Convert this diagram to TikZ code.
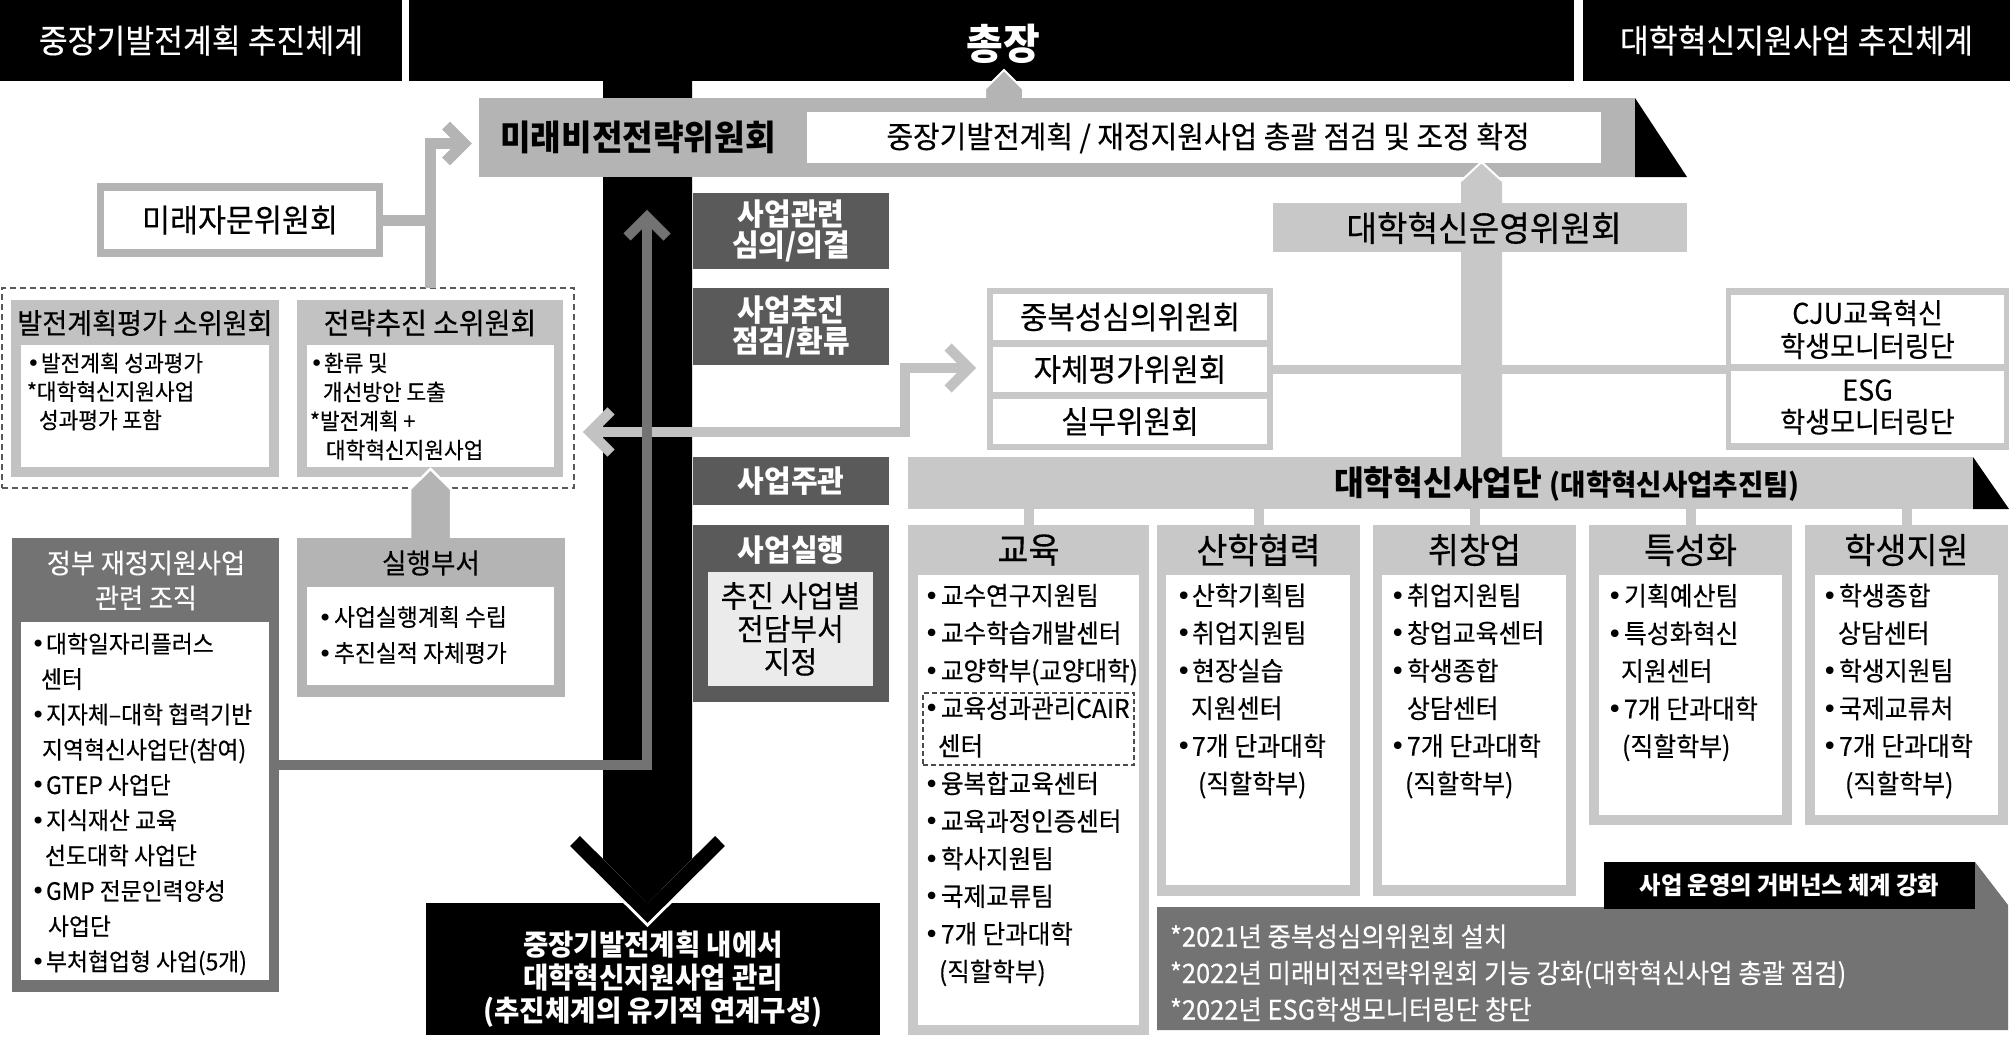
\documentclass[tikz,border=0pt]{standalone}
\usepackage{fontspec}
\setmainfont{Noto Sans CJK KR}[FakeStretch=0.95,UprightFeatures={FakeBold=0.3}]
\newfontfamily\djf{DejaVu Sans}
\definecolor{gB}{HTML}{B4B4B4}
\definecolor{gC}{HTML}{C8C8C8}
\definecolor{gS}{HTML}{C2C2C2}
\definecolor{gD}{HTML}{5A5A5A}
\definecolor{gM}{HTML}{737373}
\definecolor{gP}{HTML}{EBEBEB}
\newcommand\fz[2]{\fontsize{#1pt}{#2pt}\selectfont}
\newcommand\bl[1][15]{\makebox[#1pt][l]{{\djf •}}}
\newcommand\bx[6]{\pgfmathsetmacro\bxw{#4-#2}\pgfmathsetmacro\bxh{#5-#3}%
  \node[inner sep=0pt,outer sep=0pt,minimum width=\bxw pt,minimum height=\bxh pt,anchor=north west,#6] (#1) at (#2,#3) {};}
\begin{document}
\begin{tikzpicture}[x=1pt,y=-1pt,every node/.style={inner sep=0pt,outer sep=0pt},
  lst/.style={align=left,anchor=west},
  chev/.style={line width=#1,miter limit=10}]
\useasboundingbox (0,0) rectangle (2010,1041);
% ---------- headers
\bx{hdL}{0}{0}{402}{81}{fill=black}
\bx{hdM}{409}{0}{1574}{81}{fill=black}
\bx{hdR}{1583}{0}{2010}{81}{fill=black}
\node[white,font=\fz{33}{40}] (hdLt) at (hdL.center) {중장기발전계획 추진체계};
\node[white,font=\fz{33}{40}] (hdRt) at (hdR.center) {대학혁신지원사업 추진체계};
\node[white,font=\bfseries\fz{42}{48}] (pres) at (1003,44) {총장};
% ---------- bottom box and big arrow
\bx{bot}{426}{903}{880}{1035}{fill=black}
\draw[white,chev=20pt] (575,841) -- (647.5,913) -- (720,841);
\fill[black] (603,81) -- (692,81) -- (692,858.5) -- (647.5,903) -- (603,858.5) -- cycle;
\draw[black,chev=14pt] (575,841) -- (647.5,913) -- (720,841);
\node[white,font=\bfseries\fz{29}{33},align=center] (bott) at (653,979) {중장기발전계획 내에서\\대학혁신지원사업 관리\\(추진체계의 유기적 연계구성)};
% ---------- small arrow to president
\filldraw[fill=gB,draw=white,line width=2pt] (985,104) -- (985,89) -- (1004,70) -- (1023,89) -- (1023,104);
% ---------- vision band
\bx{band}{479}{98}{1635}{177}{fill=gB}
\fill[black] (band.north east) -- (1687,177) -- (band.south east) -- cycle;
\bx{bandw}{807}{112}{1601}{163}{fill=white}
\node[font=\bfseries\fz{35}{40}] (bandt) at (638,137) {미래비전전략위원회};
\node[font=\fz{30.5}{36}] (bandwt) at (1208,138) {중장기발전계획 / 재정지원사업 총괄 점검 및 조정 확정};
% ---------- vertical bar to band
\fill[gC] (1461,457) -- (1461,180) -- (1481.5,162) -- (1502,180) -- (1502,457) -- cycle;
\draw[white,line width=2pt] (1461,181) -- (1481.5,162) -- (1502,181);
% ---------- committees
\bx{cmt}{987}{288}{1273}{450}{fill=gC}
\bx{cmt1}{993}{294}{1267}{340}{fill=white}
\bx{cmt2}{993}{347}{1267}{392}{fill=white}
\bx{cmt3}{993}{399}{1267}{444}{fill=white}
\node[font=\fz{31.5}{36}] (cmt1t) at (cmt1.center) {중복성심의위원회};
\node[font=\fz{31.5}{36}] (cmt2t) at (cmt2.center) {자체평가위원회};
\node[font=\fz{31.5}{36}] (cmt3t) at (cmt3.center) {실무위원회};
\bx{cju}{1726}{288}{2009}{450}{fill=gC}
\bx{cju1}{1731}{295}{2004}{364}{fill=white}
\bx{cju2}{1731}{371}{2004}{443}{fill=white}
\node[font=\fz{28.5}{33},align=center] (cju1t) at (cju1.center) {CJU교육혁신\\학생모니터링단};
\node[font=\fz{28.5}{32},align=center] (cju2t) at (cju2.center) {ESG\\학생모니터링단};
\draw[gC,line width=9pt] (cmt.east |- cmt2.center) -- (cju.west |- cmt2.center);
% ---------- operating committee
\bx{uny}{1273}{203}{1687}{252}{fill=gC}
\node[font=\fz{35}{40}] (unyt) at (1484,228) {대학혁신운영위원회};
% ---------- future advisory
\bx{jm}{97}{183}{383}{257}{fill=gB}
\bx{jmw}{104}{191}{376}{249}{fill=white}
\node[font=\fz{32}{38}] (jmt) at (jm.center) {미래자문위원회};
% ---------- subcommittees
\bx{dsh}{2}{288}{574}{488}{draw=black!65,dash pattern=on 6pt off 4pt,line width=1.2pt}
\bx{sub1}{11}{300}{279}{477}{fill=gS}
\bx{sub1w}{21}{345}{269}{467}{fill=white}
\bx{sub2}{297}{300}{563}{477}{fill=gS}
\bx{sub2w}{307}{345}{554}{467}{fill=white}
\node[font=\fz{28.5}{36}] (sub1t) at (145,323) {발전계획평가 소위원회};
\node[font=\fz{29.5}{36}] (sub2t) at (430,323) {전략추진 소위원회};
\node[lst,font=\fz{22.5}{28.5}] (sub1l) at (27,391.5) {\bl[14]발전계획 성과평가\\*대학혁신지원사업\\\hspace*{12pt}성과평가 포함};
\node[lst,font=\fz{22.5}{29}] (sub2l) at (310,406.5) {\bl[14]환류 및\\\hspace*{13pt}개선방안 도출\\*발전계획 +\\\hspace*{16pt}대학혁신지원사업};
% connectors of advisory
\coordinate (j1) at (430,220.5);
\coordinate (j2) at (430,143.5);
\draw[gB,line width=11pt] (jm.east |- j1) -- (j1);
\draw[gB,line width=11pt] (j1 |- dsh.north) -- (j2) -- (462,143.5);
\draw[gB,chev=11pt] (446,125.5) -- (464,143.5) -- (446,161.5);
% ---------- execution dept
\filldraw[fill=gB,draw=white,line width=2.5pt] (410,545) -- (410,489) -- (430.5,469) -- (451,489) -- (451,545);
\bx{exec}{297}{538}{565}{697}{fill=gB}
\bx{execw}{307}{587}{554}{685}{fill=white}
\node[font=\fz{28}{34}] (exect) at (431,563) {실행부서};
\node[lst,font=\fz{24}{36}] (execl) at (318,635) {\bl[16]사업실행계획 수립\\\bl[16]추진실적 자체평가};
% ---------- government projects
\bx{gov}{12}{538}{279}{992}{fill=gM}
\bx{govw}{21}{622}{269}{980}{fill=white}
\node[white,font=\fz{27.5}{35},align=center] (govt) at (146,580.5) {정부 재정지원사업\\관련 조직};
\node[lst,font=\fz{24}{35.3}] (govl) at (31,804) {\bl[15]대학일자리플러스\\\hspace*{10pt}센터\\\bl[15]지자체–대학 협력기반\\\hspace*{11pt}지역혁신사업단(참여)\\\bl[15]GTEP 사업단\\\bl[15]지식재산 교육\\\hspace*{14pt}선도대학 사업단\\\bl[15]GMP 전문인력양성\\\hspace*{17pt}사업단\\\bl[15]부처협업형 사업(5개)};
% ---------- feedback connector
\coordinate (f1) at (591,432);
\coordinate (f2) at (905,432);
\coordinate (f3) at (905,368);
\coordinate (f4) at (967,368);
\draw[gS,line width=10pt] (f1) -- (f2) -- (f3) -- (f4);
\draw[gS,chev=10pt] (611,411) -- (590,432) -- (611,453);
\draw[gS,chev=10pt] (948,347) -- (969,368) -- (948,389);
% ---------- dark connector from government box
\coordinate (d1) at (647,765);
\coordinate (d2) at (647,222);
\draw[gM,line width=10pt] (gov.east |- d1) -- (d1) -- (d2);
\draw[gM,chev=10pt] (627,237) -- (647,217) -- (667,237);
% ---------- middle labels
\bx{lab1}{693}{193}{889}{269}{fill=gD}
\bx{lab2}{693}{288}{889}{365}{fill=gD}
\bx{lab3}{693}{457}{889}{505}{fill=gD}
\bx{lab4}{693}{525}{889}{702}{fill=gD}
\bx{lab4w}{708}{572}{873}{686}{fill=gP}
\node[white,font=\bfseries\fz{30.5}{31},align=center] (lab1t) at (lab1.center) {사업관련\\심의/의결};
\node[white,font=\bfseries\fz{30.5}{31},align=center] (lab2t) at (lab2.center) {사업추진\\점검/환류};
\node[white,font=\bfseries\fz{30.5}{36}] (lab3t) at (lab3.center) {사업주관};
\node[white,font=\bfseries\fz{30.5}{36}] (lab4t) at (791,550) {사업실행};
\node[font=\fz{30.5}{33},align=center] (lab4wt) at (lab4w.center) {추진 사업별\\전담부서\\지정};
% ---------- project group band
\bx{sadan}{908}{457}{1973}{509}{fill=gC}
\fill[black] (sadan.north east) -- (2009,509) -- (sadan.south east) -- cycle;
\node[font=\bfseries] (sadant) at (1567,484) {\fz{34}{40}대학혁신사업단 \fz{29}{34}(대학혁신사업추진팀)};
% ---------- columns
\bx{c1}{908}{525}{1149}{1035}{fill=gC}
\bx{c1w}{918}{575}{1139}{1025}{fill=white}
\bx{c2}{1157}{525}{1360}{896}{fill=gC}
\bx{c2w}{1166}{575}{1350}{885}{fill=white}
\bx{c3}{1373}{525}{1576}{896}{fill=gC}
\bx{c3w}{1382}{575}{1566}{885}{fill=white}
\bx{c4}{1589}{525}{1792}{825}{fill=gC}
\bx{c4w}{1599}{575}{1782}{815}{fill=white}
\bx{c5}{1805}{525}{2008}{825}{fill=gC}
\bx{c5w}{1815}{575}{1998}{815}{fill=white}
\foreach \c in {c1,c2,c3,c4,c5} {\draw[gC,line width=10pt] (sadan.south -| \c.north) -- (\c.north);}
\node[font=\fz{35.5}{40}] (c1t) at (1028.5,550) {교육};
\node[font=\fz{35.5}{40}] (c2t) at (1258.5,550) {산학협력};
\node[font=\fz{35.5}{40}] (c3t) at (1474.5,550) {취창업};
\node[font=\fz{35.5}{40}] (c4t) at (1690.5,550) {특성화};
\node[font=\fz{35.5}{40}] (c5t) at (1906.5,550) {학생지원};
\bx{cair}{923}{693}{1134}{765}{draw=black!70,dash pattern=on 5pt off 3pt,line width=1.2pt}
\node[lst,font=\fz{25.8}{37.6}] (c1l) at (924,785) {\bl[17]교수연구지원팀\\\bl[17]교수학습개발센터\\\bl[17]교양학부(교양대학)\\\bl[17]교육성과관리CAIR\\\hspace*{14pt}센터\\\bl[17]융복합교육센터\\\bl[17]교육과정인증센터\\\bl[17]학사지원팀\\\bl[17]국제교류팀\\\bl[17]7개 단과대학\\\hspace*{15pt}(직할학부)};
\node[lst,font=\fz{26.2}{37.6}] (c2l) at (1176,691) {\bl[16]산학기획팀\\\bl[16]취업지원팀\\\bl[16]현장실습\\\hspace*{15pt}지원센터\\\bl[16]7개 단과대학\\\hspace*{22pt}(직할학부)};
\node[lst,font=\fz{26.2}{37.6}] (c3l) at (1390,691) {\bl[17]취업지원팀\\\bl[17]창업교육센터\\\bl[17]학생종합\\\hspace*{17pt}상담센터\\\bl[17]7개 단과대학\\\hspace*{15pt}(직할학부)};
\node[lst,font=\fz{26.2}{37.6}] (c4l) at (1607,672.5) {\bl[17]기획예산팀\\\bl[17]특성화혁신\\\hspace*{14pt}지원센터\\\bl[17]7개 단과대학\\\hspace*{15pt}(직할학부)};
\node[lst,font=\fz{26.2}{37.6}] (c5l) at (1822,691) {\bl[17]학생종합\\\hspace*{16pt}상담센터\\\bl[17]학생지원팀\\\bl[17]국제교류처\\\bl[17]7개 단과대학\\\hspace*{23pt}(직할학부)};
% ---------- governance
\bx{gvn}{1157}{907}{2008}{1030}{}
\fill[gM] (gvn.north west) -- (1975,907) -- (1975,862) -- (2008,905) -- (gvn.south east) -- (gvn.south west) -- cycle;
\bx{gvl}{1604}{862}{1975}{909}{fill=black}
\node[white,font=\bfseries\fz{24.5}{30}] (gvlt) at (gvl.center) {사업 운영의 거버넌스 체계 강화};
\node[lst,white,font=\fz{26.8}{36.5}] (gvt) at (1170,973) {*2021년 중복성심의위원회 설치\\*2022년 미래비전전략위원회 기능 강화(대학혁신사업 총괄 점검)\\*2022년 ESG학생모니터링단 창단};
\end{tikzpicture}
\end{document}
